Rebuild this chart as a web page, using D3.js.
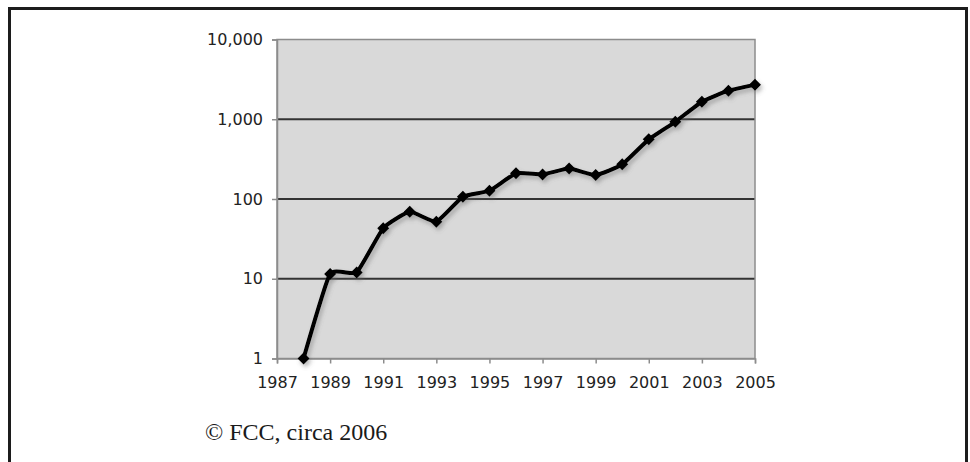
<!DOCTYPE html>
<html>
<head>
<meta charset="utf-8">
<script src="https://cdn.jsdelivr.net/npm/d3@7"></script>
<style>
  html, body { margin: 0; padding: 0; background: #fff; }
  svg { display: block; }
</style>
</head>
<body>
<svg id="chart" width="970" height="462"></svg>
<script>
const years = [1988, 1989, 1990, 1991, 1992, 1993, 1994, 1995, 1996, 1997, 1998, 1999, 2000, 2001, 2002, 2003, 2004, 2005];
const values = [1, 11.5, 12, 43, 69, 52, 107, 127, 210, 203, 241, 200, 272, 560, 930, 1660, 2280, 2700];
const xTicks = [1987, 1989, 1991, 1993, 1995, 1997, 1999, 2001, 2003, 2005];
const yTicks = [1, 10, 100, 1000, 10000];
const footnote = "© FCC, circa 2006";

const svg = d3.select("#chart");
const plot = { left: 277, top: 39.5, right: 755, bottom: 358.5 };

// outer frame
svg.append("rect")
  .attr("x", 9.5).attr("y", 8.5)
  .attr("width", 957).attr("height", 470)
  .attr("fill", "none").attr("stroke", "#1c1c1c").attr("stroke-width", 3);

const x = d3.scaleLinear().domain([1987, 2005]).range([plot.left, plot.right]);
const y = d3.scaleLog().domain([1, 10000]).range([plot.bottom, plot.top]);

const defs = svg.append("defs");
const f = defs.append("filter").attr("id", "shadow")
  .attr("x", "-10%").attr("y", "-10%").attr("width", "130%").attr("height", "130%");
f.append("feDropShadow").attr("dx", 2).attr("dy", 3).attr("stdDeviation", 2)
  .attr("flood-color", "#666").attr("flood-opacity", 0.45);

// plot background
svg.append("rect")
  .attr("x", plot.left).attr("y", plot.top)
  .attr("width", plot.right - plot.left).attr("height", plot.bottom - plot.top)
  .attr("fill", "#d9d9d9");

// gridlines
svg.append("g").selectAll("line")
  .data(yTicks.filter(v => v > 1 && v < 10000))
  .join("line")
  .attr("x1", plot.left).attr("x2", plot.right)
  .attr("y1", d => y(d)).attr("y2", d => y(d))
  .attr("stroke", "#333").attr("stroke-width", 2);

// plot border
svg.append("rect")
  .attr("x", plot.left).attr("y", plot.top)
  .attr("width", plot.right - plot.left).attr("height", plot.bottom - plot.top)
  .attr("fill", "none").attr("stroke", "#8c8c8c").attr("stroke-width", 1.5);

// axes
const yAxis = d3.axisLeft(y).tickValues(yTicks).tickSize(5).tickPadding(9)
  .tickFormat(d3.format(","));
const gy = svg.append("g").attr("transform", `translate(${plot.left},0)`).call(yAxis);
gy.select(".domain").attr("stroke", "#8c8c8c").attr("stroke-width", 1.5);
gy.selectAll(".tick line").attr("stroke", "#8c8c8c").attr("stroke-width", 1.5);
gy.selectAll(".tick text").attr("fill", "#222")
  .style("font-family", "'DejaVu Sans', Verdana, sans-serif").style("font-size", "16px");

const xAxis = d3.axisBottom(x).tickValues(xTicks).tickSize(5).tickPadding(13)
  .tickFormat(d3.format("d"));
const gx = svg.append("g").attr("transform", `translate(0,${plot.bottom})`).call(xAxis);
gx.select(".domain").attr("stroke", "#8c8c8c").attr("stroke-width", 1.5);
gx.selectAll(".tick line").attr("stroke", "#8c8c8c").attr("stroke-width", 1.5);
gx.selectAll(".tick text").attr("fill", "#222")
  .style("font-family", "'DejaVu Sans', Verdana, sans-serif").style("font-size", "16px");

// series
const data = years.map((yr, i) => ({ yr, v: values[i] }));
const line = d3.line().x(d => x(d.yr)).y(d => y(d.v)).curve(d3.curveCardinal.tension(0.55));
const series = svg.append("g").attr("filter", "url(#shadow)");
series.append("path").datum(data)
  .attr("d", line).attr("fill", "none")
  .attr("stroke", "#000").attr("stroke-width", 4).attr("stroke-linejoin", "round");
series.selectAll("path.marker").data(data).join("path")
  .attr("class", "marker")
  .attr("d", d3.symbol().type(d3.symbolSquare).size(72))
  .attr("transform", d => `translate(${x(d.yr)},${y(d.v)}) rotate(45)`)
  .attr("fill", "#000");

// footnote
svg.append("text")
  .attr("x", 205).attr("y", 440)
  .attr("fill", "#1a1a1a")
  .style("font-family", "'Liberation Serif', 'Times New Roman', serif")
  .style("font-size", "24px")
  .text(footnote);
</script>
</body>
</html>
